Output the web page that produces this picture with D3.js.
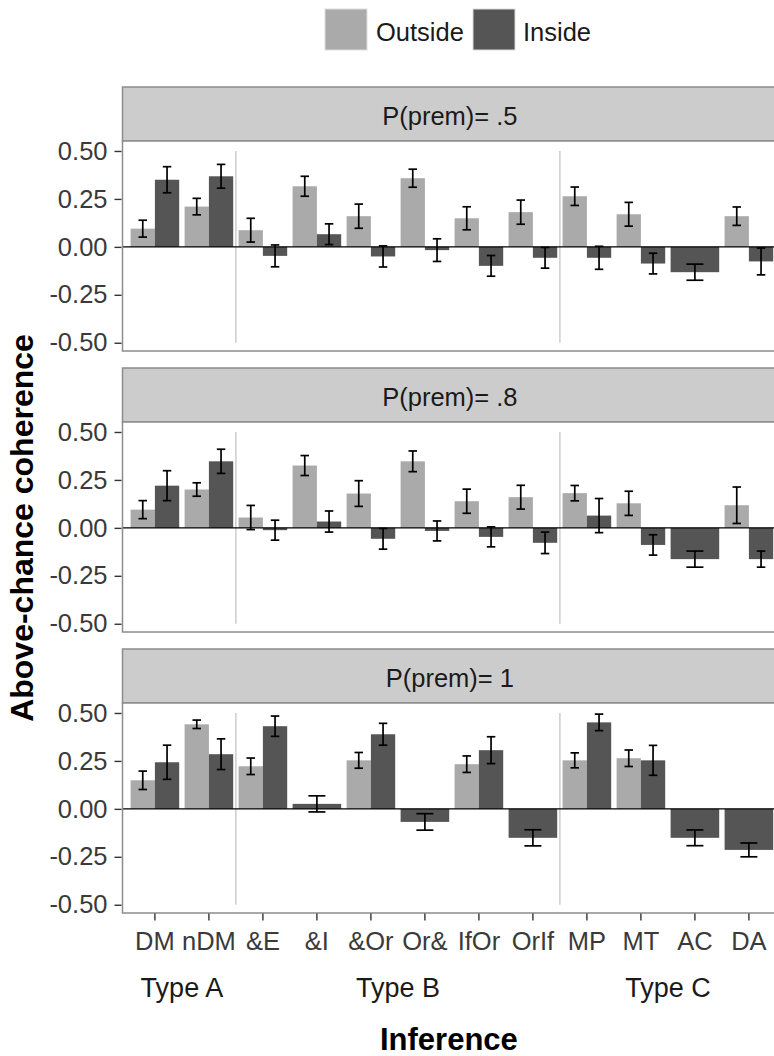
<!DOCTYPE html>
<html>
<head>
<meta charset="utf-8">
<script src="https://cdn.jsdelivr.net/npm/d3@7"></script>
<style>
  html, body { margin: 0; padding: 0; background: #ffffff; }
  svg { display: block; font-family: "Liberation Sans", Arial, sans-serif; }
</style>
</head>
<body>
<svg id="chart" width="774" height="1056"></svg>
<script>
// Inference categories along the x axis
const categories = ["DM", "nDM", "&E", "&I", "&Or", "Or&", "IfOr", "OrIf", "MP", "MT", "AC", "DA"];
const seriesNames = ["Outside", "Inside"];
const facetLabels = ["P(prem)= .5", "P(prem)= .8", "P(prem)= 1"];
const yTicks = [-0.5, -0.25, 0, 0.25, 0.5];
const typeLabels = ["Type A", "Type B", "Type C"];
// each type label sits between these two inferences
const typeAnchors = [["DM", "nDM"], ["&Or", "Or&"], ["MT", "AC"]];
// separators between inference types (drawn between these neighbours)
const separatorsAfter = ["nDM", "OrIf"];

// Mean above-chance coherence and standard error, per facet (null = no estimate)
const outside05   = [0.095, 0.210, 0.087, 0.316, 0.160, 0.358, 0.149, 0.181, 0.264, 0.170, null, 0.160];
const outsideSE05 = [0.044, 0.043, 0.062, 0.052, 0.063, 0.047, 0.060, 0.063, 0.048, 0.062, null, 0.048];
const inside05    = [0.350, 0.368, -0.047, 0.066, -0.050, -0.017, -0.099, -0.057, -0.057, -0.087, -0.132, -0.076];
const insideSE05  = [0.068, 0.062, 0.057, 0.054, 0.055, 0.059, 0.054, 0.054, 0.060, 0.054, 0.042, 0.070];

const outside08   = [0.095, 0.200, 0.054, 0.325, 0.179, 0.347, 0.139, 0.160, 0.181, 0.128, null, 0.118];
const outsideSE08 = [0.047, 0.035, 0.063, 0.052, 0.067, 0.054, 0.063, 0.062, 0.040, 0.063, null, 0.095];
const inside08    = [0.220, 0.347, -0.012, 0.033, -0.057, -0.016, -0.047, -0.078, 0.064, -0.089, -0.163, -0.163];
const insideSE08  = [0.078, 0.063, 0.052, 0.055, 0.054, 0.052, 0.052, 0.056, 0.089, 0.053, 0.042, 0.042];

const outside1    = [0.149, 0.441, 0.222, null, 0.253, null, 0.233, null, 0.253, 0.264, null, null];
const outsideSE1  = [0.048, 0.022, 0.043, null, 0.041, null, 0.043, null, 0.039, 0.043, null, null];
const inside1     = [0.243, 0.285, 0.431, 0.026, 0.389, -0.068, 0.306, -0.151, 0.451, 0.253, -0.151, -0.214];
const insideSE1   = [0.089, 0.080, 0.053, 0.042, 0.057, 0.043, 0.070, 0.042, 0.043, 0.078, 0.041, 0.036];

const facetData = [
  { label: facetLabels[0], Outside: [outside05, outsideSE05], Inside: [inside05, insideSE05] },
  { label: facetLabels[1], Outside: [outside08, outsideSE08], Inside: [inside08, insideSE08] },
  { label: facetLabels[2], Outside: [outside1,  outsideSE1],  Inside: [inside1,  insideSE1] }
];

const colors = { Outside: "#aaaaaa", Inside: "#555555" };

const svg = d3.select("#chart");

// layout
const panelLeft = 122.5;
const step = 54;
const panelRight = panelLeft + step * 12.2;
const stripH = 54, plotH = 210, facetPitch = 281, firstStripTop = 87;
const borderColor = "#8c8c8c";

const x = d3.scaleBand().domain(categories).range([panelLeft, panelRight])
  .paddingInner(0).paddingOuter(0.1);
const dodgeW = x.bandwidth() * 0.9;
const xs = d3.scaleBand().domain(seriesNames).range([0, dodgeW]);

facetData.forEach((f, i) => {
  const stripTop = firstStripTop + i * facetPitch;
  const plotTop = stripTop + stripH;
  const plotBottom = plotTop + plotH;
  const y = d3.scaleLinear().domain([-0.543, 0.552]).range([plotBottom, plotTop]);
  const g = svg.append("g");

  // strip
  g.append("rect").attr("x", panelLeft).attr("y", stripTop)
    .attr("width", panelRight - panelLeft).attr("height", stripH)
    .attr("fill", "#cccccc").attr("stroke", borderColor).attr("stroke-width", 1.5);
  g.append("text").attr("x", (panelLeft + panelRight) / 2 - 2).attr("y", stripTop + stripH / 2 + 2)
    .attr("text-anchor", "middle").attr("dominant-baseline", "central")
    .attr("font-size", 25.5).attr("fill", "#1a1a1a").text(f.label);

  // panel background
  g.append("rect").attr("x", panelLeft).attr("y", plotTop)
    .attr("width", panelRight - panelLeft).attr("height", plotH)
    .attr("fill", "#ffffff");

  // type separators
  separatorsAfter.forEach(c => {
    const sx = x(c) + x.step();
    g.append("line").attr("x1", sx).attr("x2", sx)
      .attr("y1", y(0.5)).attr("y2", y(-0.5))
      .attr("stroke", "#c4c4c4").attr("stroke-width", 1.3);
  });

  // bars + error bars
  const records = [];
  categories.forEach((c, k) => {
    const present = seriesNames.filter(s => f[s][0][k] !== null);
    present.forEach(s => {
      const full = present.length === 1;
      const bx = x(c) + (x.bandwidth() - dodgeW) / 2 + (full ? 0 : xs(s));
      const bw = full ? dodgeW : xs.bandwidth();
      records.push({ series: s, x0: bx, w: bw, v: f[s][0][k], se: f[s][1][k] });
    });
  });

  g.selectAll("rect.bar").data(records).join("rect").attr("class", "bar")
    .attr("x", d => d.x0).attr("width", d => d.w)
    .attr("y", d => y(Math.max(0, d.v)))
    .attr("height", d => Math.abs(y(d.v) - y(0)))
    .attr("fill", d => colors[d.series]);

  // zero line
  g.append("line").attr("x1", panelLeft).attr("x2", panelRight)
    .attr("y1", y(0)).attr("y2", y(0)).attr("stroke", "#000").attr("stroke-width", 1.4);

  const eb = g.selectAll("g.err").data(records).join("g").attr("class", "err")
    .attr("stroke", "#000").attr("stroke-width", 1.7);
  eb.append("line")
    .attr("x1", d => d.x0 + d.w / 2).attr("x2", d => d.x0 + d.w / 2)
    .attr("y1", d => y(d.v + d.se)).attr("y2", d => y(d.v - d.se));
  [1, -1].forEach(sgn => {
    eb.append("line")
      .attr("x1", d => d.x0 + d.w / 2 - d.w * 0.175).attr("x2", d => d.x0 + d.w / 2 + d.w * 0.175)
      .attr("y1", d => y(d.v + sgn * d.se)).attr("y2", d => y(d.v + sgn * d.se));
  });

  // panel border
  g.append("rect").attr("x", panelLeft).attr("y", plotTop)
    .attr("width", panelRight - panelLeft).attr("height", plotH)
    .attr("fill", "none").attr("stroke", borderColor).attr("stroke-width", 1.5);

  // y axis
  const ya = g.append("g").attr("transform", `translate(${panelLeft - 1},0)`)
    .call(d3.axisLeft(y).tickValues(yTicks).tickFormat(d => d.toFixed(2))
      .tickSize(7).tickPadding(7));
  ya.select(".domain").remove();
  ya.selectAll(".tick line").attr("stroke", "#333").attr("stroke-width", 1.4);
  ya.selectAll(".tick text").attr("font-size", 25.5).attr("fill", "#3a3a3a")
    .attr("font-family", "Liberation Sans, Arial, sans-serif");

  // x axis on the bottom facet only
  if (i === facetData.length - 1) {
    const xa = g.append("g").attr("transform", `translate(0,${plotBottom + 0.5})`)
      .call(d3.axisBottom(x).tickSize(7).tickPadding(11));
    xa.select(".domain").remove();
    xa.selectAll(".tick line").attr("stroke", "#333").attr("stroke-width", 1.4);
    xa.selectAll(".tick text").attr("font-size", 25.5).attr("fill", "#3a3a3a")
      .attr("font-family", "Liberation Sans, Arial, sans-serif");

    typeLabels.forEach((t, j) => {
      const [a, b] = typeAnchors[j];
      const cx = (x(a) + x(b)) / 2 + x.bandwidth() / 2;
      svg.append("text").attr("x", cx).attr("y", 997)
        .attr("text-anchor", "middle").attr("font-size", 27).attr("fill", "#1a1a1a").text(t);
    });
  }
});

// axis titles
svg.append("text").attr("transform", "translate(33,528) rotate(-90)")
  .attr("text-anchor", "middle").attr("font-size", 32).attr("font-weight", "bold")
  .attr("fill", "#000").text("Above-chance coherence");
svg.append("text").attr("x", (panelLeft + panelRight) / 2 - 3).attr("y", 1050)
  .attr("text-anchor", "middle").attr("font-size", 31).attr("font-weight", "bold")
  .attr("fill", "#000").text("Inference");

// legend
const legendItems = [
  { name: "Outside", keyX: 325, textX: 376 },
  { name: "Inside", keyX: 473, textX: 523 }
];
const lg = svg.append("g");
legendItems.forEach(it => {
  lg.append("rect").attr("x", it.keyX).attr("y", 9).attr("width", 42).attr("height", 41)
    .attr("fill", colors[it.name]).attr("stroke", "#dddddd").attr("stroke-width", 1);
  lg.append("text").attr("x", it.textX).attr("y", 32).attr("dominant-baseline", "central")
    .attr("font-size", 25.5).attr("fill", "#1a1a1a").text(it.name);
});
</script>
</body>
</html>
